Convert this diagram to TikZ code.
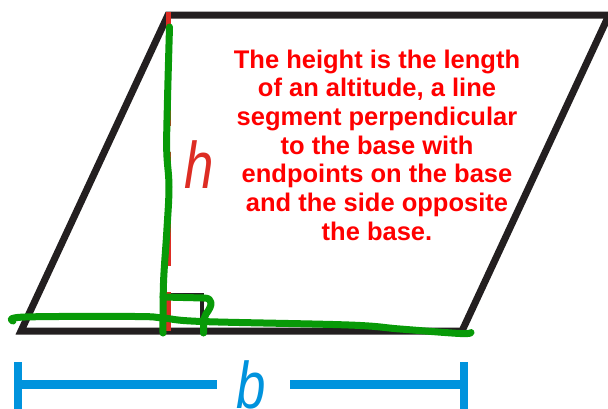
\documentclass[tikz,border=0pt]{standalone}
\usepackage{fontspec}
\setmainfont{Liberation Sans}
\definecolor{blk}{HTML}{231F20}
\definecolor{hred}{HTML}{DD2C23}
\definecolor{txtred}{HTML}{FF0000}
\definecolor{grn}{HTML}{089A08}
\definecolor{blu}{HTML}{0093DD}
\tikzset{
  edge/.style={blk, line width=7pt, miter limit=10},
  marker/.style={grn, line width=7pt, line cap=round, line join=round},
  dim/.style={blu},
}
\begin{document}
\begin{tikzpicture}[x=1pt,y=-1pt]
\useasboundingbox (0,0) rectangle (608,408);
\fill[white] (0,0) rectangle (608,408);
% parallelogram
\draw[edge] (21,331) -- (462,331) -- (609,15) -- (168,15) -- cycle;
% right angle mark
\draw[blk, line width=3.5pt] (166,295) -- (202,295) -- (202,331);
% altitude
\draw[hred, line width=5pt, dash pattern=on 44pt off 26pt] (168,12) -- (168,292);
\draw[hred, line width=5pt] (168,292) -- (168,331);
% explanation
\node[txtred, font=\fontsize{25.5}{28.7}\selectfont\bfseries, align=center, anchor=north, inner sep=0] (note) at (377,49.5)
  {The height is the length\\of an altitude, a line\\segment perpendicular\\to the base with\\endpoints on the base\\and the side opposite\\the base.};
% h label
\node[hred, font=\fontsize{66}{66}\selectfont\itshape, anchor=base, inner sep=0] (h) at (199,188) {\scalebox{0.8}[1]{h}};
% base dimension
\draw[dim, line width=8pt] (18,362) -- (18,412);
\draw[dim, line width=9pt] (18,384.5) -- (217,384.5);
\draw[dim, line width=9pt] (290,384.5) -- (463.5,384.5);
\draw[dim, line width=8pt] (463.5,362) -- (463.5,412);
\node[blu, font=\fontsize{66}{66}\selectfont\itshape, anchor=base, inner sep=0] (b) at (251,408) {\scalebox{0.8}[1]{b}};
% green hand-drawn marks
\draw[marker] plot[smooth, tension=0.6] coordinates {(13,321) (25,317) (136,316.5) (163,318) (202,321.5) (349,325) (400,329) (460,333.5) (471,332.5)};
\draw[marker] plot[smooth, tension=0.6] coordinates {(169.5,27) (167.5,100) (166.7,150) (169,187) (166.7,233) (163.5,283) (163,333)};
\draw[marker] (163,297) -- (204,298) .. controls (213,298) and (213,305) .. (206,314) -- (203.5,320) -- (203.5,333);
\end{tikzpicture}
\end{document}
